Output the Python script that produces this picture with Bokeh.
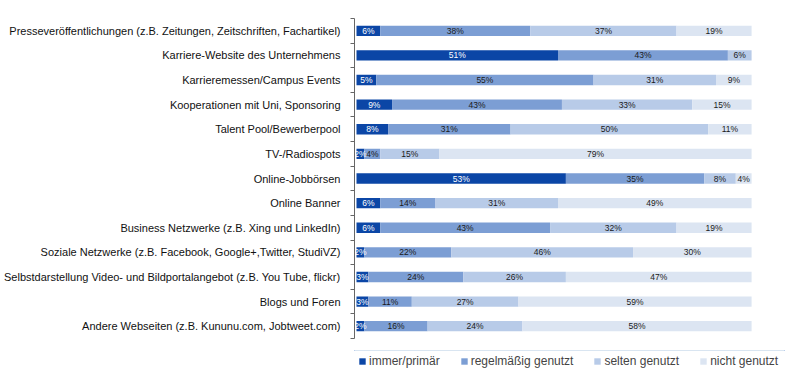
from bokeh.plotting import figure
from bokeh.layouts import column
from bokeh.models import Range1d, FixedTicker, Legend, LegendItem, ColumnDataSource
from bokeh.core.properties import value
from bokeh.embed import file_html
from bokeh.resources import INLINE

categories = [
    "Presseveröffentlichungen (z.B. Zeitungen, Zeitschriften, Fachartikel)",
    "Karriere-Website des Unternehmens",
    "Karrieremessen/Campus Events",
    "Kooperationen mit Uni, Sponsoring",
    "Talent Pool/Bewerberpool",
    "TV-/Radiospots",
    "Online-Jobbörsen",
    "Online Banner",
    "Business Netzwerke (z.B. Xing und LinkedIn)",
    "Soziale Netzwerke (z.B. Facebook, Google+,Twitter, StudiVZ)",
    "Selbstdarstellung Video- und Bildportalangebot (z.B. You Tube, flickr)",
    "Blogs und Foren",
    "Andere Webseiten (z.B. Kununu.com, Jobtweet.com)",
]
immer = [6, 51, 5, 9, 8, 2, 53, 6, 6, 2, 3, 3, 2]
regelmaessig = [38, 43, 55, 43, 31, 4, 35, 14, 43, 22, 24, 11, 16]
selten = [37, 6, 31, 33, 50, 15, 8, 31, 32, 46, 26, 27, 24]
nicht = [19, 0, 9, 15, 11, 79, 4, 49, 19, 30, 47, 59, 58]
series_names = ["immer/primär", "regelmäßig genutzt", "selten genutzt", "nicht genutzt"]

colors = ["#0b46a6", "#7c9ed4", "#b8cbe8", "#dce5f2"]
label_colors = ["#ffffff", "#1a1a1a", "#1a1a1a", "#1a1a1a"]
FONT = "Liberation Sans"
AXIS_COLOR = "#666666"

ypos = list(range(1, len(categories) + 1))
fields = ["s0", "s1", "s2", "s3"]
series = [immer, regelmaessig, selten, nicht]
src = ColumnDataSource(dict(y=ypos, s0=immer, s1=regelmaessig, s2=selten, s3=nicht))

p = figure(width=786, height=350, output_backend="svg", toolbar_location=None,
           x_range=Range1d(-0.505, 108.33), y_range=Range1d(len(categories) + 0.5, 0.5),
           min_border_left=353, min_border_right=2, min_border_top=18, min_border_bottom=12,
           outline_line_color=None, background_fill_color="white", border_fill_color="white")

renderers = p.hbar_stack(fields, y="y", height=0.42, color=colors, line_width=0, source=src)

# segment labels
lx, ly, lt, lc = [], [], [], []
for i, yy in enumerate(ypos):
    cum = 0
    for s, vals in enumerate(series):
        v = vals[i]
        if v > 0:
            lx.append(cum + v / 2)
            ly.append(yy)
            lt.append(f"{v}%")
            lc.append(label_colors[s])
        cum += v
lsrc = ColumnDataSource(dict(x=lx, y=ly, t=lt, c=lc))
p.text(x="x", y="y", text="t", text_color="c", source=lsrc, text_align="center",
       text_baseline="middle", text_font=value(FONT), text_font_size="8.5px")

p.xaxis.visible = False
p.xgrid.visible = False
p.ygrid.visible = False

yax = p.yaxis[0]
yax.ticker = FixedTicker(ticks=ypos, minor_ticks=[y - 0.5 for y in ypos] + [ypos[-1] + 0.5])
yax.major_label_overrides = {y: c for y, c in zip(ypos, categories)}
yax.major_tick_line_color = None
yax.major_tick_in = 0
yax.major_tick_out = 0
yax.minor_tick_in = 0
yax.minor_tick_out = 4
yax.minor_tick_line_color = AXIS_COLOR
yax.axis_line_color = AXIS_COLOR
yax.major_label_standoff = 10
yax.major_label_text_font = FONT
yax.major_label_text_font_size = "11px"
yax.major_label_text_color = "#111111"

# legend strip below the chart, with the same horizontal frame as the chart;
# its bars use the chart data but lie outside the strip's visible y range
p2 = figure(width=786, height=38, output_backend="svg", toolbar_location=None,
            x_range=Range1d(0, 1), y_range=Range1d(-2, -1),
            min_border_left=353, min_border_right=2, min_border_top=0, min_border_bottom=0,
            outline_line_color=None, background_fill_color="white", border_fill_color="white")
p2.axis.visible = False
p2.grid.visible = False
swatches = [p2.hbar(y="y", right=f, height=0.42, color=c, line_width=0, source=src)
            for f, c in zip(fields, colors)]
legend = Legend(items=[LegendItem(label=n, renderers=[r]) for n, r in zip(series_names, swatches)],
                orientation="horizontal", location=(4, 20),
                glyph_width=8, glyph_height=8, label_standoff=3, spacing=20,
                label_text_font=FONT, label_text_font_size="12px", label_height=14,
                padding=0, margin=0, border_line_color=None, background_fill_alpha=0)
p2.add_layout(legend, "center")

open("out.html", "w").write(file_html(column(p, p2, spacing=0), INLINE))
